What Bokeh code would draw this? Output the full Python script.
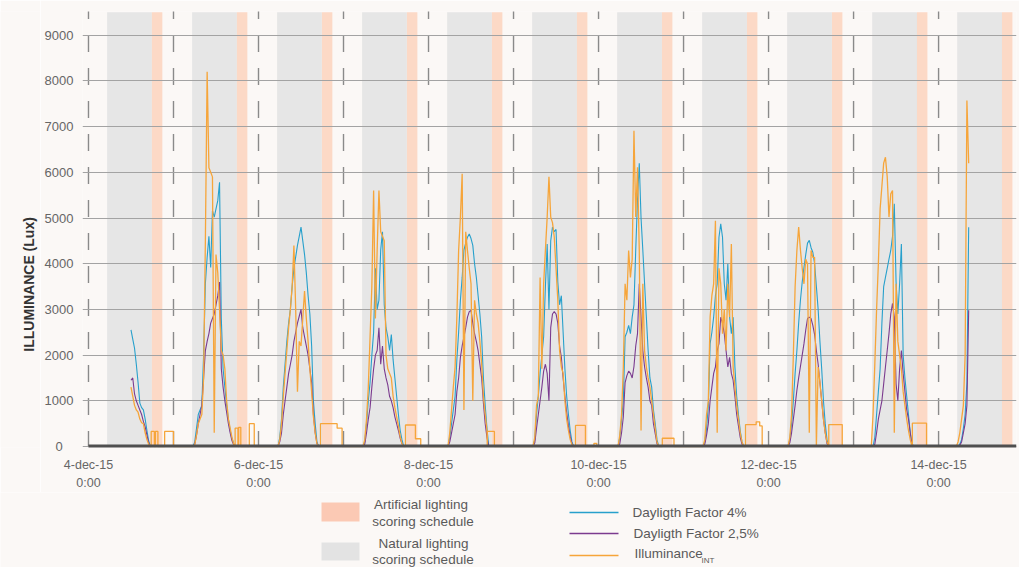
import math
from bokeh.plotting import figure
from bokeh.models import Range1d, FixedTicker
from bokeh.layouts import column, row
from bokeh.embed import file_html
from bokeh.resources import INLINE
from bokeh.core.properties import value

# ---------------- data ----------------
DAY_NAMES = ["4-dec-15", "5-dec-15", "6-dec-15", "7-dec-15", "8-dec-15", "9-dec-15",
             "10-dec-15", "11-dec-15", "12-dec-15", "13-dec-15", "14-dec-15"]
# first hour of each day's daylight record, values every 0.5 h
DAY_START_H = [12.0, 5.5, 5.5, 5.5, 5.5, 5.5, 5.5, 5.5, 5.5, 5.5, 5.5]
STEP_H = 0.5

DF4 = [
    [2550, 2350, 2150, 1800, 1400, 950, 850, 800, 600, 350, 120, 0],
    [0, 100, 400, 700, 800, 900, 2000, 3560, 4140, 4600, 3920, 5160, 5020, 5200, 5380, 5780, 2800, 1700, 1300, 900, 600, 350, 180, 60, 0],
    [0, 200, 600, 1300, 1800, 2300, 2700, 3000, 3500, 3900, 4150, 4400, 4600, 4800, 4500, 4200, 3800, 3300, 2900, 2200, 1000, 500, 100, 0, 0],
    [0, 100, 500, 1000, 1400, 2000, 2500, 3900, 3000, 3200, 4300, 4700, 3100, 2600, 2400, 2100, 2450, 1900, 1500, 1100, 700, 350, 150, 0, 0],
    [0, 200, 500, 800, 1100, 1900, 2500, 3200, 3700, 4300, 4450, 4580, 4650, 4550, 4400, 4000, 3700, 3300, 2900, 2400, 1500, 900, 400, 0, 0],
    [0, 150, 700, 1100, 1600, 2000, 2400, 3500, 4430, 3000, 4500, 4800, 4700, 4750, 3600, 3100, 3300, 2500, 1700, 1100, 700, 350, 100, 0, 0],
    [0, 200, 600, 1000, 2400, 2500, 2650, 2470, 2830, 3100, 4300, 5400, 6200, 5000, 4300, 3560, 2830, 2100, 1500, 1300, 800, 500, 150, 0, 0],
    [0, 100, 400, 900, 2250, 2500, 2830, 3300, 3560, 4580, 4870, 4580, 3560, 3200, 4000, 2830, 2470, 2830, 1740, 1100, 700, 350, 100, 0, 0],
    [0, 150, 500, 1000, 1600, 2100, 2700, 3200, 3600, 3920, 4200, 4450, 4510, 4350, 4250, 4000, 3500, 3000, 2300, 1700, 1000, 500, 150, 0, 0],
    [0, 200, 700, 1200, 1700, 2700, 3500, 3700, 3900, 4100, 4290, 4600, 5310, 3600, 2900, 3560, 4430, 2000, 1500, 1100, 700, 300, 50, 0, 0],
    [0, 50, 150, 400, 700, 1400, 4800],
]
DF25 = [
    [1450, 1500, 1150, 1000, 900, 800, 700, 550, 430, 250, 80, 0],
    [0, 50, 250, 500, 700, 900, 1500, 2100, 2300, 2470, 2700, 2800, 2900, 3100, 3300, 3600, 1700, 1300, 1000, 750, 500, 300, 130, 30, 0],
    [0, 100, 300, 700, 1000, 1300, 1600, 1800, 2000, 2300, 2500, 2700, 2850, 3000, 2600, 2400, 2200, 2000, 1700, 1400, 700, 300, 60, 0, 0],
    [0, 50, 300, 600, 850, 1300, 1700, 2000, 2100, 2600, 1800, 2200, 1700, 1500, 1350, 1100, 1000, 850, 650, 500, 350, 180, 60, 0, 0],
    [0, 100, 300, 500, 700, 1200, 1500, 1950, 2200, 2400, 2600, 2830, 2950, 2980, 2700, 2470, 2300, 2100, 1800, 1500, 950, 500, 200, 0, 0],
    [0, 80, 400, 700, 1000, 1300, 1650, 1800, 1600, 1000, 2600, 2900, 2950, 2900, 2700, 2200, 1950, 1500, 1100, 750, 450, 220, 60, 0, 0],
    [0, 60, 300, 650, 1400, 1550, 1650, 1600, 1500, 1750, 2200, 2470, 3560, 2830, 2100, 1740, 1500, 1300, 1000, 900, 500, 280, 60, 0, 0],
    [0, 50, 250, 500, 1000, 1300, 1600, 1740, 2100, 2250, 2830, 2700, 2470, 2100, 1740, 1950, 1600, 1450, 1100, 700, 450, 200, 50, 0, 0],
    [0, 80, 300, 600, 900, 1230, 1500, 1750, 2000, 2250, 2550, 2800, 2830, 2800, 2650, 2450, 2100, 1800, 1400, 1000, 600, 300, 60, 0, 0],
    [0, 50, 300, 600, 800, 1000, 1370, 1740, 2100, 2470, 2900, 3130, 2830, 1370, 1000, 1700, 2100, 1600, 1200, 800, 600, 300, 60, 0, 0],
    [0, 30, 100, 300, 500, 900, 2980],
]
ILLUM = [
    [1300, 1100, 900, 800, 750, 600, 520, 500, 300, 150, 50, 0],
    [0, 40, 250, 500, 600, 700, 1500, 4500, 8200, 6100, 6000, 5900, 300, 4200, 3800, 3000, 2100, 2000, 1700, 1000, 600, 400, 200, 50, 0],
    [0, 150, 500, 1100, 1600, 2100, 2600, 3000, 3500, 4400, 3000, 1200, 2300, 2200, 2800, 3400, 2800, 2300, 1700, 1200, 650, 300, 60, 0, 0],
    [0, 150, 600, 1300, 2400, 3500, 5600, 2800, 4300, 5600, 4700, 4600, 4500, 2000, 1700, 1600, 1500, 1100, 850, 650, 450, 220, 60, 0, 0],
    [0, 300, 800, 1300, 1740, 2830, 4290, 5020, 5970, 800, 4700, 4290, 3900, 3560, 1000, 3200, 2900, 2700, 2300, 1800, 1100, 700, 350, 0, 0],
    [0, 200, 900, 1100, 3700, 1700, 3560, 4300, 5020, 5900, 5020, 4900, 4580, 3900, 3200, 2100, 1740, 1600, 1000, 600, 350, 150, 40, 0, 0],
    [0, 250, 700, 1740, 3560, 3200, 4290, 3700, 4100, 6910, 5020, 6110, 4290, 350, 3560, 2100, 1740, 1500, 1300, 1000, 700, 400, 100, 0, 0],
    [0, 150, 700, 1000, 2830, 3300, 3560, 4940, 300, 3900, 3560, 2470, 3000, 2100, 3560, 2830, 4430, 1740, 1300, 900, 600, 300, 100, 0, 0],
    [0, 200, 700, 2000, 3500, 4290, 4800, 4300, 3900, 3560, 4100, 4000, 300, 4290, 4140, 4140, 0, 1740, 1400, 1000, 600, 300, 100, 0, 0],
    [700, 1800, 3000, 4000, 5200, 5700, 6200, 6330, 5900, 5020, 5530, 5600, 300, 3560, 2300, 2000, 1700, 1200, 900, 600, 350, 150, 0, 0, 0],
    [100, 300, 600, 900, 2000, 7570, 6200],
]
# artificial lighting steps in the evening (day index, on hour, off hour, lux)
EVE_DAY = [0, 0, 0, 1, 1, 1, 2, 2, 3, 3, 4, 5, 5, 6, 7, 7, 7, 8, 9]
EVE_ON = [17.7, 18.9, 21.5, 17.4, 18.4, 21.4, 17.5, 22.2, 17.5, 20.3, 16.6, 17.5, 22.7, 18.0, 17.5, 20.5, 21.5, 17.0, 16.6]
EVE_OFF = [18.6, 19.6, 24.0, 18.2, 19.0, 22.8, 22.2, 23.6, 20.3, 21.8, 18.6, 20.3, 23.5, 21.3, 20.5, 21.5, 22.2, 20.8, 20.6]
EVE_LUX = [330, 330, 330, 400, 420, 500, 500, 400, 470, 170, 330, 460, 70, 180, 480, 540, 450, 480, 510]

# scoring schedules (hours of each day)
NAT_START, NAT_END, ART_END = 5.25, 17.9, 20.85

Y_TICKS = [0, 1000, 2000, 3000, 4000, 5000, 6000, 7000, 8000, 9000]
X_TICKS_DAY = [0, 2, 4, 6, 8, 10]
X_TICK_LABELS = [DAY_NAMES[d] + "\n0:00" for d in X_TICKS_DAY]

SERIES_NAMES = ["Dayligth Factor 4%", "Dayligth Factor 2,5%", "Illuminance"]
SCHEDULE_NAMES = ["Artificial lighting", "scoring schedule", "Natural lighting", "scoring schedule"]
Y_TITLE = "ILLUMINANCE (Lux)"

# ---------------- styles ----------------
BG = "#fbf8f6"
GRAY_BAND = "#e6e6e6"
ORANGE_BAND = "#fcd9c6"
C_DF4 = "#27a0cc"
C_DF25 = "#7b3b8f"
C_ILL = "#f6a53a"
FONT = "Liberation Sans"
TXT = "#666666"

X_START, X_END = -1.69, 262.0


def day_points(lists, d):
    t0 = d * 24 + DAY_START_H[d]
    return [(t0 + i * STEP_H, v) for i, v in enumerate(lists[d])]


def build_series(lists, with_evening=False):
    xs, ys = [], []
    for d in range(len(lists)):
        pts = []
        if d > 0:
            pts.append((d * 24 + DAY_START_H[d] - STEP_H, 0))
        segs = [k for k in range(len(EVE_DAY)) if EVE_DAY[k] == d] if with_evening else []
        cutoff = d * 24 + min(EVE_ON[k] for k in segs) if segs else 1e9
        pts += [pt for pt in day_points(lists, d) if pt[0] < cutoff]
        for j, k in enumerate(segs):
            on, off = d * 24 + EVE_ON[k], d * 24 + EVE_OFF[k]
            if j == 0 or abs(EVE_ON[k] - EVE_OFF[segs[j - 1]]) > 1e-6:
                pts.append((on, 0))
            pts += [(on, EVE_LUX[k]), (off, EVE_LUX[k])]
            if j == len(segs) - 1 or abs(EVE_ON[segs[j + 1]] - EVE_OFF[k]) > 1e-6:
                pts.append((off, 0))
        xs += [pt[0] for pt in pts]
        ys += [pt[1] for pt in pts]
    return xs, ys


def bare(fig):
    fig.outline_line_color = None
    fig.xgrid.visible = False
    fig.ygrid.visible = False


# ---------------- title strip (left) ----------------
t = figure(width=40, height=492, output_backend="svg", toolbar_location=None,
           x_range=Range1d(0, 40), y_range=Range1d(0, 492),
           x_axis_type=None, y_axis_type=None,
           min_border_left=0, min_border_right=0, min_border_top=0, min_border_bottom=0,
           background_fill_color=BG, border_fill_color=BG)
bare(t)
t.text(x=[28], y=[184], text=[Y_TITLE], angle=math.pi / 2,
       text_font=value(FONT), text_font_style="bold", text_font_size="14px",
       text_color="#333333", text_align="center", text_baseline="middle")

# ---------------- main chart ----------------
p = figure(width=979, height=492, output_backend="svg", toolbar_location=None,
           x_range=Range1d(X_START, X_END), y_range=Range1d(-22, 9519),
           min_border_left=42, min_border_right=3, min_border_top=11, min_border_bottom=45,
           background_fill_color=BG, border_fill_color=BG)
p.outline_line_color = None

n_days = len(DAY_NAMES)
days = list(range(n_days))
p.quad(left=[d * 24 + NAT_START for d in days], right=[d * 24 + NAT_END for d in days],
       bottom=0, top=9500, fill_color=GRAY_BAND, line_color=None, level="image")
p.quad(left=[d * 24 + NAT_END for d in days], right=[d * 24 + ART_END for d in days],
       bottom=0, top=9500, fill_color=ORANGE_BAND, line_color=None, level="image")
p.segment(x0=[d * 24 for d in days], y0=9550, x1=[d * 24 for d in days], y1=0,
          line_color="#8a8a8a", line_width=1.4, line_dash="17 16", line_dash_offset=8,
          level="underlay")

x4, y4 = build_series(DF4)
x25, y25 = build_series(DF25)
xi, yi = build_series(ILLUM, with_evening=True)
p.line(x4, y4, line_color=C_DF4, line_width=1.1)
p.line(x25, y25, line_color=C_DF25, line_width=1.1)
p.line(xi, yi, line_color=C_ILL, line_width=1.3)
# zero baseline
p.line([0, X_END], [0, 0], line_color="#4f4f4f", line_width=4)

p.xgrid.visible = False
p.ygrid.ticker = FixedTicker(ticks=Y_TICKS)
p.ygrid.grid_line_color = "#a3a3a3"
p.ygrid.grid_line_width = 1.2

p.yaxis.ticker = FixedTicker(ticks=Y_TICKS)
p.yaxis.major_label_overrides = {0: "0\u2007\u00a0"}
p.yaxis.axis_line_color = None
p.yaxis.major_tick_line_color = None
p.yaxis.minor_tick_line_color = None
p.yaxis.major_tick_out = 0
p.yaxis.major_label_standoff = 9
p.yaxis.major_label_text_font = FONT
p.yaxis.major_label_text_font_size = "13px"
p.yaxis.major_label_text_color = TXT

p.xaxis.ticker = FixedTicker(ticks=[d * 24 for d in X_TICKS_DAY])
p.xaxis.major_label_overrides = {d * 24: lab for d, lab in zip(X_TICKS_DAY, X_TICK_LABELS)}
p.xaxis.axis_line_color = None
p.xaxis.major_tick_line_color = None
p.xaxis.minor_tick_line_color = None
p.xaxis.major_tick_out = 0
p.xaxis.major_label_standoff = 10
p.xaxis.major_label_text_font = FONT
p.xaxis.major_label_text_font_size = "12.5px"
p.xaxis.major_label_text_line_height = 1.3
p.xaxis.major_label_text_color = TXT

# ---------------- legend strip ----------------
q = figure(width=1019, height=75, output_backend="svg", toolbar_location=None,
           x_range=Range1d(0, 1019), y_range=Range1d(75, 0),
           x_axis_type=None, y_axis_type=None,
           min_border_left=0, min_border_right=0, min_border_top=0, min_border_bottom=0,
           background_fill_color=BG, border_fill_color=BG)
bare(q)

q.quad(left=[321], right=[359], top=[10], bottom=[29], fill_color="#fbc9b4", line_color=None)
q.quad(left=[321], right=[359], top=[50], bottom=[68], fill_color="#e3e3e3", line_color=None)
q.text(x=[420.5, 422.5, 423, 422.5], y=[12, 29, 51, 67], text=SCHEDULE_NAMES,
       text_font=value(FONT), text_font_size="13.5px", text_color="#5a5a5a",
       text_align="center", text_baseline="middle")
q.segment(x0=[569, 569, 569], y0=[20, 41, 63], x1=[618, 618, 618], y1=[20, 41, 63],
          line_color=[C_DF4, C_DF25, C_ILL], line_width=1.6)
q.text(x=[632, 633, 634], y=[20, 41, 61], text=SERIES_NAMES,
       text_font=value(FONT), text_font_size="13.5px", text_color="#5a5a5a",
       text_align="left", text_baseline="middle")
q.text(x=[701], y=[68], text=["INT"], text_font=value(FONT), text_font_size="8px",
       text_color="#5a5a5a", text_align="left", text_baseline="middle")

layout = column(row(t, p), q)
open("out.html", "w").write(file_html(layout, INLINE))
